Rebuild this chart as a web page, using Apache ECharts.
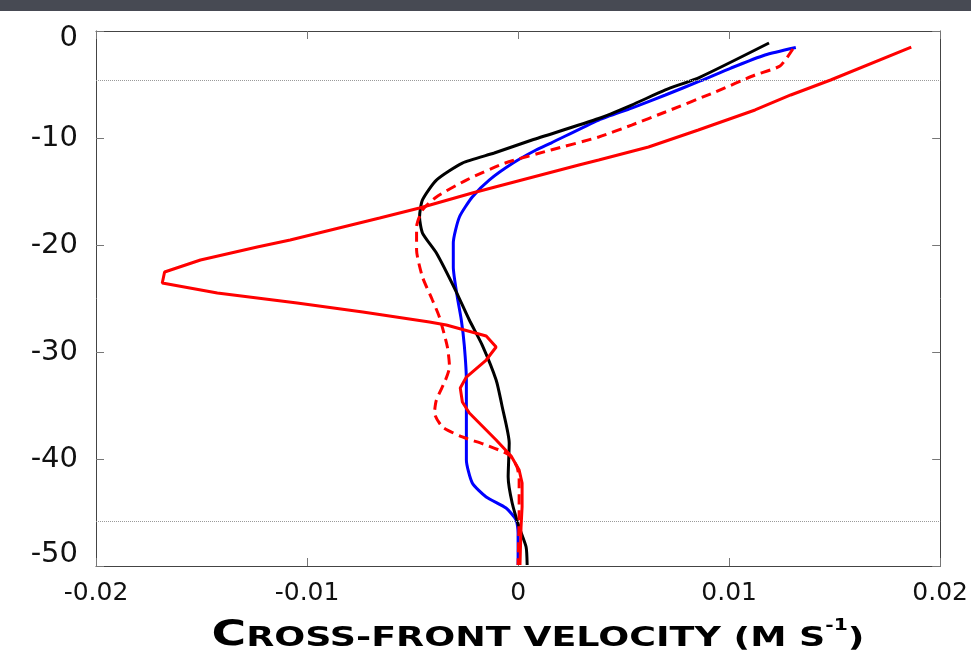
<!DOCTYPE html>
<html>
<head>
<meta charset="utf-8">
<script src="https://cdn.jsdelivr.net/npm/echarts@6/dist/echarts.min.js"></script>
<style>
html,body{margin:0;padding:0;background:#fff;}
#chart{width:971px;height:660px;}
</style>
</head>
<body>
<div id="chart"></div>
<script>
// ---- data (velocity in m/s, depth in m) ----
var xMin = -0.02, xMax = 0.02, xStep = 0.01;
var yMin = -50, yMax = 0, yStep = 10;
var refDepths = [-4.58, -45.8];

var redVel = [0.01863, 0.01481, 0.01292, 0.01123, 0.00854, 0.00618, 0.00382, 0.00288, -0.00217, -0.00467, -0.00656, -0.0108, -0.01236, -0.01505, -0.01675, -0.01686, -0.01425, -0.01047, -0.00736, -0.0042, -0.0034, -0.00151, -0.00104, -0.00151, -0.00245, -0.00274, -0.00264, -0.00231, -0.00104, -0.00033, 0.00005, 0.00019, 0.00019, 0.00014, 0.00009];
var redDepth = [-1.5, -4.58, -5.98, -7.38, -9.25, -10.84, -12.06, -12.52, -15.14, -16.54, -17.48, -19.53, -20.19, -21.4, -22.52, -23.55, -24.49, -25.42, -26.26, -27.2, -27.48, -28.5, -29.53, -30.75, -32.34, -33.36, -34.67, -35.7, -38.22, -39.72, -41.03, -42.24, -44.49, -46.36, -49.9];

var blackVel = [0.01189, 0.00863, 0.00698, 0.00538, 0.00382, 0.00066, -0.00113, -0.00264, -0.00387, -0.00453, -0.00467, -0.00453, -0.00387, -0.00297, -0.00231, -0.0017, -0.00104, -0.00075, -0.00042, -0.00047, -0.00028, 0.00005, 0.00038, 0.00043];
var blackDepth = [-1.12, -4.3, -5.51, -6.92, -8.18, -10.19, -11.4, -12.34, -13.93, -15.79, -17.38, -18.88, -20.75, -24.21, -27.01, -29.35, -32.62, -35.14, -38.5, -41.68, -44.11, -46.36, -48.22, -49.9];

var blueVel = [0.01316, 0.0117, 0.01009, 0.00863, 0.00698, 0.00538, 0.00382, 0.00156, 0.00085, -0.00024, -0.00137, -0.00217, -0.00278, -0.00307, -0.00307, -0.00288, -0.00269, -0.00255, -0.00245, -0.00245, -0.00245, -0.00217, -0.00151, -0.00057, -0.00009, 0.0, 0.0];
var blueDepth = [-1.54, -2.24, -3.46, -4.67, -5.98, -7.2, -8.32, -10.47, -11.12, -12.34, -13.93, -15.51, -17.38, -19.81, -22.06, -24.86, -27.01, -29.35, -32.62, -35.7, -40.09, -42.24, -43.55, -44.58, -45.7, -46.92, -49.9];

var dashVel = [0.01302, 0.01241, 0.01123, 0.00934, 0.00698, 0.00538, 0.00382, 0.00156, -0.00061, -0.00245, -0.00387, -0.00453, -0.00481, -0.00481, -0.00453, -0.00406, -0.00373, -0.00335, -0.00325, -0.00344, -0.00387, -0.00396, -0.00358, -0.00264, -0.00151, -0.00042, -0.00005, 0.00005, 0.00005, 0.0];
var dashDepth = [-1.68, -3.27, -4.11, -5.7, -7.57, -8.79, -9.91, -11.12, -12.34, -13.93, -15.51, -16.73, -18.32, -20.47, -22.99, -25.14, -26.73, -29.53, -31.4, -32.62, -34.49, -35.7, -37.01, -37.94, -38.69, -39.63, -40.75, -41.96, -45.05, -49.9];

function pairs(xs, ys) { return xs.map(function (x, i) { return [x, ys[i]]; }); }

var chart = echarts.init(document.getElementById('chart'), null, {renderer: 'canvas'});

var frameColor = '#444';
var labelFont = 'DejaVu Sans';

function fmtX(v) {
  if (Math.abs(v) < 1e-9) return '0';
  return (Math.round(v * 100) / 100).toFixed(2);
}

function axisLineStyle() { return {show: true, onZero: false, lineStyle: {color: frameColor, width: 1}}; }
function tickStyle() { return {show: true, inside: true, length: 8, lineStyle: {color: '#777'}}; }

var option = {
  backgroundColor: '#ffffff',
  animation: false,
  grid: {left: 96, right: 29, top: 31, bottom: 94, containLabel: false},
  xAxis: [{
    type: 'value', min: xMin, max: xMax, interval: xStep, position: 'bottom',
    axisLine: axisLineStyle(), axisTick: tickStyle(), splitLine: {show: false},
    axisLabel: {show: true, margin: 15, fontFamily: labelFont, fontSize: 25, color: '#111', formatter: fmtX}
  }, {
    type: 'value', min: xMin, max: xMax, interval: xStep, position: 'top',
    axisLine: axisLineStyle(), axisTick: tickStyle(), splitLine: {show: false},
    axisLabel: {show: false}
  }],
  yAxis: [{
    type: 'value', min: yMin, max: yMax, interval: yStep, position: 'left',
    axisLine: axisLineStyle(), axisTick: tickStyle(), splitLine: {show: false},
    axisLabel: {
      show: true, margin: 18, fontFamily: labelFont, fontSize: 29, color: '#111',
      formatter: function (v) {
        if (v === 0) return '{t|0}';
        if (v === -50) return '{b|-50}';
        return '{n|' + v + '}';
      },
      rich: {
        t: {fontFamily: labelFont, fontSize: 29, color: '#111', padding: [15, 0, 0, 0]},
        b: {fontFamily: labelFont, fontSize: 29, color: '#111', padding: [0, 0, 24, 0]},
        n: {fontFamily: labelFont, fontSize: 29, color: '#111'}
      }
    }
  }, {
    type: 'value', min: yMin, max: yMax, interval: yStep, position: 'right',
    axisLine: axisLineStyle(), axisTick: tickStyle(), splitLine: {show: false},
    axisLabel: {show: false}
  }],
  graphic: [{
    type: 'rect', left: 0, top: 0, z: 100,
    shape: {width: 971, height: 11},
    style: {fill: '#474a53'}
  }, {
    type: 'text', x: 538, y: 636, scaleX: 1.35, scaleY: 1, originX: 0, originY: 0, z: 100,
    style: {
      text: '{a|C}{b|ROSS-FRONT VELOCITY (M S}{c|-1}{b|)}',
      align: 'center', verticalAlign: 'middle',
      rich: {
        a: {fontFamily: 'DejaVu Sans', fontWeight: 'bold', fontSize: 35, lineHeight: 35, fill: '#000', verticalAlign: 'bottom'},
        b: {fontFamily: 'DejaVu Sans', fontWeight: 'bold', fontSize: 27, lineHeight: 27, fill: '#000', verticalAlign: 'bottom', padding: [0, 0, 1, 0]},
        c: {fontFamily: 'DejaVu Sans', fontWeight: 'bold', fontSize: 15, lineHeight: 15, fill: '#000', verticalAlign: 'top', padding: [0, 0, 14, 0]}
      }
    }
  }],
  series: [{
    name: 'blue', type: 'line', xAxisIndex: 0, yAxisIndex: 0,
    data: pairs(blueVel, blueDepth), showSymbol: false, symbol: 'none', smooth: 0.2,
    lineStyle: {color: '#0000ff', width: 3}, z: 3,
    markLine: {
      silent: true, symbol: 'none', label: {show: false},
      lineStyle: {type: 'dotted', color: '#9a9a9a', width: 1},
      data: refDepths.map(function (d) { return {yAxis: d}; })
    }
  }, {
    name: 'black', type: 'line', xAxisIndex: 0, yAxisIndex: 0,
    data: pairs(blackVel, blackDepth), showSymbol: false, symbol: 'none', smooth: 0.2,
    lineStyle: {color: '#000000', width: 3}, z: 4
  }, {
    name: 'reddash', type: 'line', xAxisIndex: 0, yAxisIndex: 0,
    data: pairs(dashVel, dashDepth), showSymbol: false, symbol: 'none', smooth: 0.2,
    lineStyle: {color: '#ff0000', width: 3, type: [10, 6]}, z: 5
  }, {
    name: 'red', type: 'line', xAxisIndex: 0, yAxisIndex: 0,
    data: pairs(redVel, redDepth), showSymbol: false, symbol: 'none', smooth: false,
    lineStyle: {color: '#ff0000', width: 3}, z: 6
  }]
};

chart.setOption(option);
</script>
</body>
</html>
